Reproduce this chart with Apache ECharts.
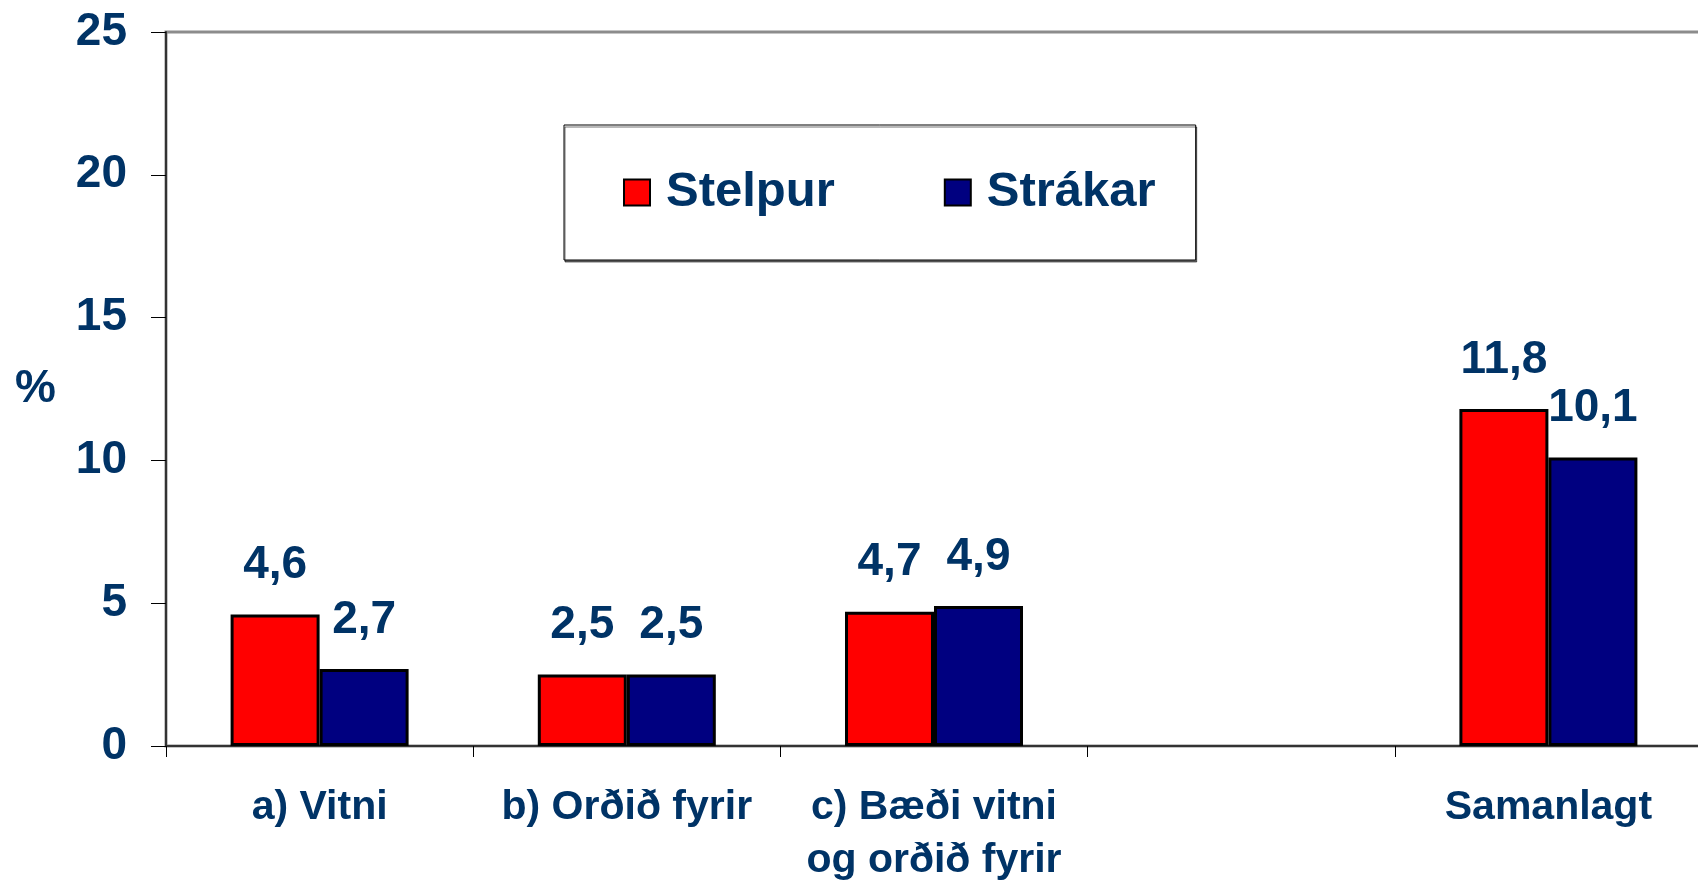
<!DOCTYPE html>
<html>
<head>
<meta charset="utf-8">
<script src="https://cdn.jsdelivr.net/npm/echarts@6/dist/echarts.min.js"></script>
<style>
  html, body { margin: 0; padding: 0; background: #fff; }
  #chart { width: 1698px; height: 882px; }
</style>
</head>
<body>
<div id="chart"></div>
<script>
// gögn
const categories = ['a) Vitni', 'b) Orðið fyrir', 'c) Bæði vitni\nog orðið fyrir', '', 'Samanlagt']
const stelpur = [4.6, 2.5, 4.7, null, 11.8]
const strakar = [2.7, 2.5, 4.9, null, 10.1]
const yTicks = [0, 5, 10, 15, 20, 25]

const textColor = '#003366'
const fontFamily = '"Liberation Sans", Arial, sans-serif'

const chart = echarts.init(document.getElementById('chart'))

function valueLabel(p) {
  return String(p.value).replace('.', ',')
}

const option = {
  backgroundColor: '#fff',
  animation: false,
  grid: {
    left: 166,
    right: -4,
    top: 32,
    bottom: 136,
    containLabel: false,
    outerBoundsMode: 'none',
    show: true,
    borderColor: '#8c8c8c',
    borderWidth: 3,
    backgroundColor: 'transparent',
  },
  legend: {
    left: 564,
    top: 125,
    padding: [43, 40, 43, 59],
    itemGap: 109,
    itemWidth: 26,
    itemHeight: 26,
    icon: 'rect',
    borderColor: '#000',
    borderWidth: 1,
    backgroundColor: '#fff',
    shadowColor: 'rgba(0,0,0,0.55)',
    shadowOffsetX: 1,
    shadowOffsetY: 2,
    shadowBlur: 0,
    textStyle: {
      color: textColor,
      fontSize: 49,
      fontWeight: 'bold',
      fontFamily: fontFamily,
      padding: [0, 0, 0, 11],
    },
    data: ['Stelpur', 'Strákar'],
  },
  graphic: [
    {
      type: 'text',
      left: 15,
      top: 366,
      style: {
        text: '%',
        fill: textColor,
        font: 'bold 46px ' + fontFamily,
      },
    },
  ],
  xAxis: {
    type: 'category',
    data: categories,
    axisLine: { lineStyle: { color: '#333', width: 2 } },
    axisTick: { show: true, length: 11, lineStyle: { color: '#000', width: 1 } },
    axisLabel: {
      interval: 0,
      margin: 35,
      color: textColor,
      fontSize: 41,
      fontWeight: 'bold',
      fontFamily: fontFamily,
      lineHeight: 53,
    },
  },
  yAxis: {
    type: 'value',
    min: yTicks[0],
    max: yTicks[yTicks.length - 1],
    interval: 5,
    splitLine: { show: false },
    axisLine: { show: true, lineStyle: { color: '#333', width: 2 } },
    axisTick: { show: true, length: 15, lineStyle: { color: '#000', width: 1 } },
    axisLabel: {
      margin: 39,
      color: textColor,
      fontSize: 46,
      fontWeight: 'bold',
      fontFamily: fontFamily,
    },
  },
  series: [
    {
      name: 'Stelpur',
      type: 'bar',
      data: stelpur,
      barWidth: 89,
      barGap: '0%',
      itemStyle: { color: '#ff0000', borderColor: '#000', borderWidth: 3 },
      label: {
        show: true,
        position: 'top',
        distance: 26,
        formatter: valueLabel,
        color: textColor,
        fontSize: 46,
        fontWeight: 'bold',
        fontFamily: fontFamily,
      },
    },
    {
      name: 'Strákar',
      type: 'bar',
      data: strakar,
      barWidth: 89,
      barGap: '0%',
      itemStyle: { color: '#000080', borderColor: '#000', borderWidth: 3 },
      label: {
        show: true,
        position: 'top',
        distance: 26,
        formatter: valueLabel,
        color: textColor,
        fontSize: 46,
        fontWeight: 'bold',
        fontFamily: fontFamily,
      },
    },
  ],
}

chart.setOption(option)
</script>
</body>
</html>
